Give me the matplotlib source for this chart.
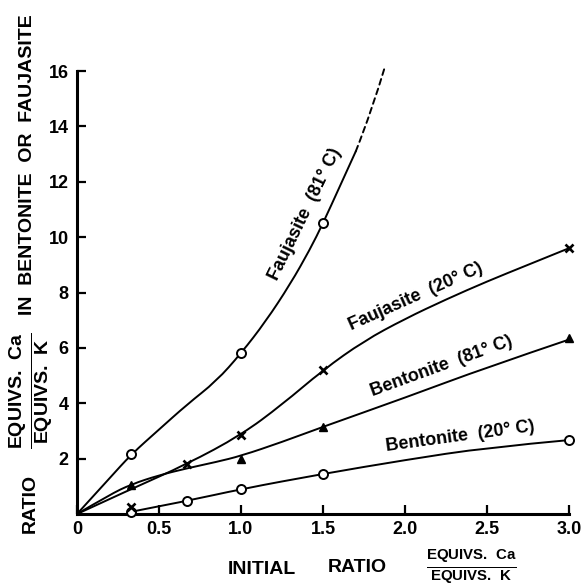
import matplotlib
matplotlib.use("Agg")
import matplotlib.pyplot as plt
from matplotlib.path import Path
from matplotlib.patches import PathPatch

plt.rcParams["font.family"] = ["Liberation Sans", "DejaVu Sans"]
plt.rcParams["font.weight"] = "bold"
plt.rcParams["mathtext.fontset"] = "custom"
plt.rcParams["mathtext.rm"] = "Liberation Sans:bold"
plt.rcParams["mathtext.bf"] = "Liberation Sans:bold"

# measured points
fauj81_x = [0.33, 1.0, 1.5]
fauj81_y = [2.15, 5.8, 10.5]
fauj20_x = [0.33, 0.67, 1.0, 1.5, 3.0]
fauj20_y = [0.25, 1.8, 2.85, 5.2, 9.6]
bent81_x = [0.33, 1.0, 1.5, 3.0]
bent81_y = [1.05, 2.0, 3.15, 6.35]
bent20_x = [0.33, 0.67, 1.0, 1.5, 3.0]
bent20_y = [0.07, 0.47, 0.9, 1.45, 2.67]

# hand drawn curves
fauj81_cx = [0, 0.2, 0.33, 0.5, 0.67, 0.85, 1.0, 1.15, 1.3, 1.42, 1.5, 1.6, 1.7]
fauj81_cy = [0, 1.3, 2.15, 3.05, 3.95, 4.8, 5.8, 6.95, 8.3, 9.55, 10.5, 11.8, 13.1]
fauj81_dx = [1.7, 1.8, 1.88]
fauj81_dy = [13.1, 14.6, 16.2]
fauj20_cx = [0, 0.33, 0.67, 1.0, 1.25, 1.5, 1.75, 2.0, 2.25, 2.5, 2.75, 3.0]
fauj20_cy = [0, 0.9, 1.8, 2.85, 3.95, 5.2, 6.25, 7.05, 7.75, 8.4, 9.0, 9.6]
bent81_cx = [0, 0.2, 0.33, 0.5, 0.67, 0.85, 1.0, 1.25, 1.5, 2.0, 2.5, 3.0]
bent81_cy = [0, 0.7, 1.07, 1.4, 1.65, 1.88, 2.1, 2.6, 3.15, 4.2, 5.3, 6.3]
bent20_cx = [0.33, 0.67, 1.0, 1.5, 2.0, 2.5, 3.0]
bent20_cy = [0.08, 0.47, 0.9, 1.45, 1.95, 2.4, 2.67]

x_ticks = [0, 0.5, 1.0, 1.5, 2.0, 2.5, 3.0]
x_labels = ["0", "0.5", "1.0", "1.5", "2.0", "2.5", "3.0"]
y_ticks = [2, 4, 6, 8, 10, 12, 14, 16]

W, H = 586, 588
fig = plt.figure(figsize=(W / 100, H / 100), dpi=100)
ax = fig.add_axes([77 / W, 1 - 514 / H, (569 - 77) / W, (514 - 71) / H])


def smooth_curve(ax, xs, ys, **kw):
    # quadratic bezier pieces through segment midpoints, like a french curve
    pts = list(zip(xs, ys))
    verts = [pts[0]]
    codes = [Path.MOVETO]
    for i in range(1, len(pts) - 1):
        mid = ((pts[i][0] + pts[i + 1][0]) / 2, (pts[i][1] + pts[i + 1][1]) / 2)
        if i == len(pts) - 2:
            mid = pts[-1]
        verts += [pts[i], mid]
        codes += [Path.CURVE3, Path.CURVE3]
    if len(pts) == 2:
        verts.append(pts[1])
        codes.append(Path.LINETO)
    patch = PathPatch(Path(verts, codes), fill=False, clip_on=False, **kw)
    ax.add_patch(patch)


kw = dict(edgecolor="black", lw=1.4, capstyle="round")
smooth_curve(ax, fauj81_cx, fauj81_cy, **kw)
smooth_curve(ax, fauj81_dx, fauj81_dy, ls=(0, (3, 2.2)), **kw)
smooth_curve(ax, fauj20_cx, fauj20_cy, **kw)
smooth_curve(ax, bent81_cx, bent81_cy, **kw)
smooth_curve(ax, bent20_cx, bent20_cy, **kw)

mk = dict(ls="none", clip_on=False, zorder=3)
ax.plot(fauj81_x, fauj81_y, "o", ms=6.5, mfc="white", mec="black", mew=1.4, **mk)
ax.plot(bent20_x, bent20_y, "o", ms=6.5, mfc="white", mec="black", mew=1.4, **mk)
ax.plot(fauj20_x, fauj20_y, "x", ms=6, mec="black", mew=1.9, **mk)
ax.plot(bent81_x, bent81_y, "^", ms=6, mfc="black", mec="black", **mk)

ax.set_xlim(0, 3.0)
ax.set_ylim(0, 16)
ax.set_xticks(x_ticks)
ax.set_xticklabels(x_labels)
ax.set_yticks(y_ticks)
for s in ["top", "right"]:
    ax.spines[s].set_visible(False)
for s in ["left", "bottom"]:
    ax.spines[s].set_linewidth(2.2)
ax.tick_params(direction="in", length=6.5, width=1.6, labelsize=13, pad=5)
ax.tick_params(axis="y", pad=6)


def ftext(x, y, s, **k):
    fig.text(x / W, 1 - y / H, s, ha="center", va="center", **k)


# curve labels
lab = dict(fontsize=13, fontweight="bold")
ftext(305, 214, "Faujasite  (81° C)", rotation=64, **lab)
ftext(416, 297, "Faujasite  (20° C)", rotation=24, **lab)
ftext(442, 366, "Bentonite  (81° C)", rotation=20, **lab)
ftext(460, 437, "Bentonite  (20° C)", rotation=7.7, **lab)

# y axis label
yl = dict(fontsize=14, fontweight="bold", rotation=90)
frac = r"$\frac{\mathrm{EQUIVS.\ Ca}}{\mathrm{EQUIVS.\ K}}$"
ftext(30, 503, "RATIO", **yl)
ftext(31, 391, frac, fontsize=20, rotation=90)
ftext(28, 165, "IN  BENTONITE  OR  FAUJASITE", **yl)

# x axis label
ftext(262, 569, "INITIAL", fontsize=14, fontweight="bold")
ftext(357, 568, "RATIO", fontsize=14, fontweight="bold")
ftext(471, 566, frac, fontsize=15.5)

fig.savefig("out.png", dpi=100)
